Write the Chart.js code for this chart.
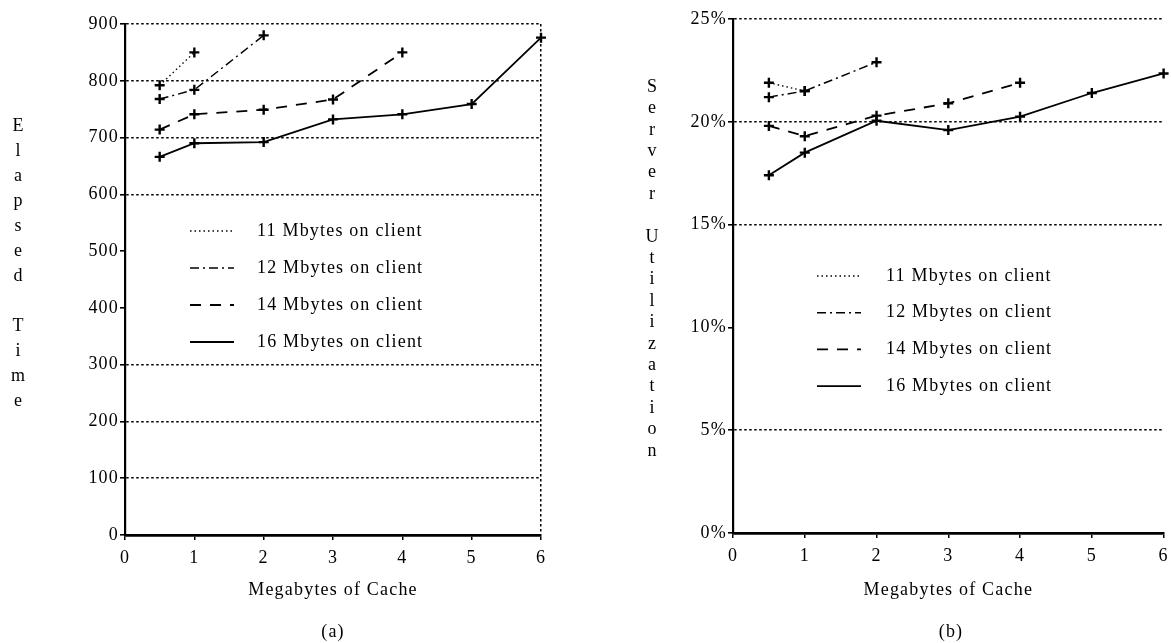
<!DOCTYPE html>
<html>
<head>
<meta charset="utf-8">
<title>Cache size vs elapsed time and server utilization</title>
<script src="https://cdn.jsdelivr.net/npm/chart.js@4/dist/chart.umd.min.js"></script>
<style>
  body { margin: 0; background: #fff; width: 1171px; height: 643px; overflow: hidden; position: relative; font-family: 'Liberation Serif', serif; }
  .panel { position: absolute; top: 0; height: 643px; }
  #panelA { left: 0; width: 585px; }
  #panelB { left: 585px; width: 586px; }
  .caption { position: absolute; top: 621px; font-size: 18px; letter-spacing: 1.2px; color: #000; transform: translateX(-50%); }
</style>
</head>
<body>
<div class="panel" id="panelA"><canvas id="elapsedChart" width="585" height="643"></canvas></div>
<div class="panel" id="panelB"><canvas id="utilChart" width="586" height="643"></canvas></div>
<div class="caption" style="left:333px">(a)</div>
<div class="caption" style="left:951px">(b)</div>

<script>
// Megabytes of cache on the x axis (each run starts at 0.5 MB)
const cacheMB = [0.5, 1, 2, 3, 4, 5, 6];

const seriesLabels = ['11 Mbytes on client', '12 Mbytes on client', '14 Mbytes on client', '16 Mbytes on client'];

// (a) elapsed time
const elapsed11 = [792, 850];
const elapsed12 = [768, 784, 880];
const elapsed14 = [714, 741, 749, 767, 850];
const elapsed16 = [666, 690, 692, 732, 741, 759, 876];

// (b) server utilization, percent
const util11 = [21.9, 21.5];
const util12 = [21.2, 21.5, 22.9];
const util14 = [19.8, 19.3, 20.3, 20.9, 21.9];
const util16 = [17.4, 18.5, 20.05, 19.6, 20.25, 21.4, 22.35];

const elapsedTicks = [0, 100, 200, 300, 400, 500, 600, 700, 800, 900];
const utilTicks = [0, 5, 10, 15, 20, 25];

// line style per client memory size: dotted, dash-dot, dashed, solid
const lineDashes = [[1.5, 3], [9, 4, 2, 4], [11, 9], []];
const lineWidths = [1.3, 1.5, 1.8, 1.8];

const FONT = "'Liberation Serif', serif";
const FONT_SIZE = 18;
Chart.defaults.font.family = FONT;
Chart.defaults.font.size = FONT_SIZE;
Chart.defaults.color = '#000';

function toPoints(values) {
    return values.map((v, i) => ({ x: cacheMB[i], y: v }));
}

function buildDatasets(seriesList) {
    return seriesList.map((values, i) => ({
        label: seriesLabels[i],
        data: toPoints(values),
        borderColor: '#000',
        borderWidth: lineWidths[i],
        borderDash: lineDashes[i],
        pointStyle: 'cross',
        pointRadius: 5,
        pointBorderWidth: 2.4,
        pointBorderColor: '#000',
        pointBackgroundColor: '#000',
        tension: 0,
        clip: false
    }));
}

// the typeface is a wide one, so space the letters out a little
const wideText = {
    id: 'wideText',
    afterInit(chart) { chart.ctx.letterSpacing = '1.2px'; },
    beforeUpdate(chart) { chart.ctx.letterSpacing = '1.2px'; },
    beforeDraw(chart) { chart.ctx.letterSpacing = '1.2px'; }
};

// legend drawn inside the plot area, one row per series
const insetLegend = {
    id: 'insetLegend',
    afterDatasetsDraw(chart, args, opts) {
        const { ctx, chartArea } = chart;
        chart.data.datasets.forEach((ds, i) => {
            const x0 = chartArea.left + opts.left;
            const y = chartArea.top + opts.top + i * opts.rowGap;
            ctx.save();
            ctx.strokeStyle = '#000';
            ctx.lineWidth = ds.borderWidth;
            ctx.setLineDash(ds.borderDash);
            ctx.beginPath();
            ctx.moveTo(x0, y);
            ctx.lineTo(x0 + opts.sampleWidth, y);
            ctx.stroke();
            ctx.setLineDash([]);
            ctx.fillStyle = '#000';
            ctx.font = FONT_SIZE + 'px ' + FONT;
            ctx.textBaseline = 'middle';
            ctx.fillText(ds.label, x0 + opts.sampleWidth + opts.textGap, y);
            ctx.restore();
        });
    }
};

// y axis title written as a column of letters
const stackedTitle = {
    id: 'stackedTitle',
    afterDraw(chart, args, opts) {
        const ctx = chart.ctx;
        ctx.save();
        ctx.letterSpacing = '0px';
        ctx.fillStyle = '#000';
        ctx.font = opts.fontSize + 'px ' + FONT;
        ctx.textAlign = 'center';
        ctx.textBaseline = 'middle';
        [...opts.text].forEach((ch, i) => {
            if (ch !== ' ') ctx.fillText(ch, opts.x, opts.top + i * opts.step);
        });
        ctx.restore();
    }
};

function makeChart(canvasId, cfg) {
    return new Chart(document.getElementById(canvasId), {
        type: 'line',
        data: { datasets: buildDatasets(cfg.series) },
        plugins: [wideText, insetLegend, stackedTitle],
        options: {
            responsive: false,
            animation: false,
            events: [],
            layout: { padding: cfg.padding },
            scales: {
                x: {
                    type: 'linear',
                    min: 0,
                    max: 6,
                    afterFit: s => {
                        s.height = cfg.xHeight;
                        if (cfg.flushRight) s.paddingRight = 0;
                    },
                    ticks: { stepSize: 1, padding: 7 },
                    grid: {
                        color: ctx => (cfg.rightBorder && ctx.tick && ctx.tick.value === 6) ? '#000' : 'rgba(0,0,0,0)',
                        lineWidth: 1.5,
                        tickColor: '#000',
                        tickLength: 5,
                        tickWidth: 1.5
                    },
                    border: { color: '#000', width: 2.8, dash: [2.5, 2.5] },
                    title: {
                        display: true,
                        text: 'Megabytes of Cache',
                        padding: { top: 0, bottom: 42 }
                    }
                },
                y: {
                    min: cfg.yTicks[0],
                    max: cfg.yTicks[cfg.yTicks.length - 1],
                    afterFit: s => { s.width = 60; },
                    afterBuildTicks: s => { s.ticks = cfg.yTicks.map(v => ({ value: v })); },
                    ticks: { padding: 1, callback: cfg.yFormat },
                    grid: {
                        color: ctx => (ctx.tick && cfg.yGrid.includes(ctx.tick.value)) ? '#000' : 'rgba(0,0,0,0)',
                        lineWidth: 1.6,
                        tickColor: '#000',
                        tickLength: 5,
                        tickWidth: 1.6
                    },
                    border: { color: '#000', width: 2.2, dash: [2.5, 2.5] }
                }
            },
            plugins: {
                legend: { display: false },
                tooltip: { enabled: false },
                insetLegend: cfg.legend,
                stackedTitle: cfg.yTitle
            }
        }
    });
}

makeChart('elapsedChart', {
    series: [elapsed11, elapsed12, elapsed14, elapsed16],
    yTicks: elapsedTicks,
    yGrid: [100, 200, 300, 600, 700, 800, 900],
    yFormat: v => v,
    rightBorder: true,
    flushRight: false,
    padding: { top: 24, left: 65, right: 44, bottom: 0 },
    xHeight: 108,
    legend: { left: 65, top: 207, rowGap: 37, sampleWidth: 44, textGap: 23 },
    yTitle: { text: 'Elapsed Time', x: 18, top: 126, step: 25, fontSize: 18 }
});

makeChart('utilChart', {
    series: [util11, util12, util14, util16],
    yTicks: utilTicks,
    yGrid: [5, 15, 20, 25],
    yFormat: v => v + '%',
    rightBorder: false,
    flushRight: true,
    padding: { top: 19, left: 88, right: 3, bottom: 0 },
    xHeight: 110,
    legend: { left: 84, top: 257, rowGap: 36.7, sampleWidth: 44, textGap: 25 },
    yTitle: { text: 'Server Utilization', x: 67, top: 87, step: 21.4, fontSize: 18 }
});
</script>
</body>
</html>
